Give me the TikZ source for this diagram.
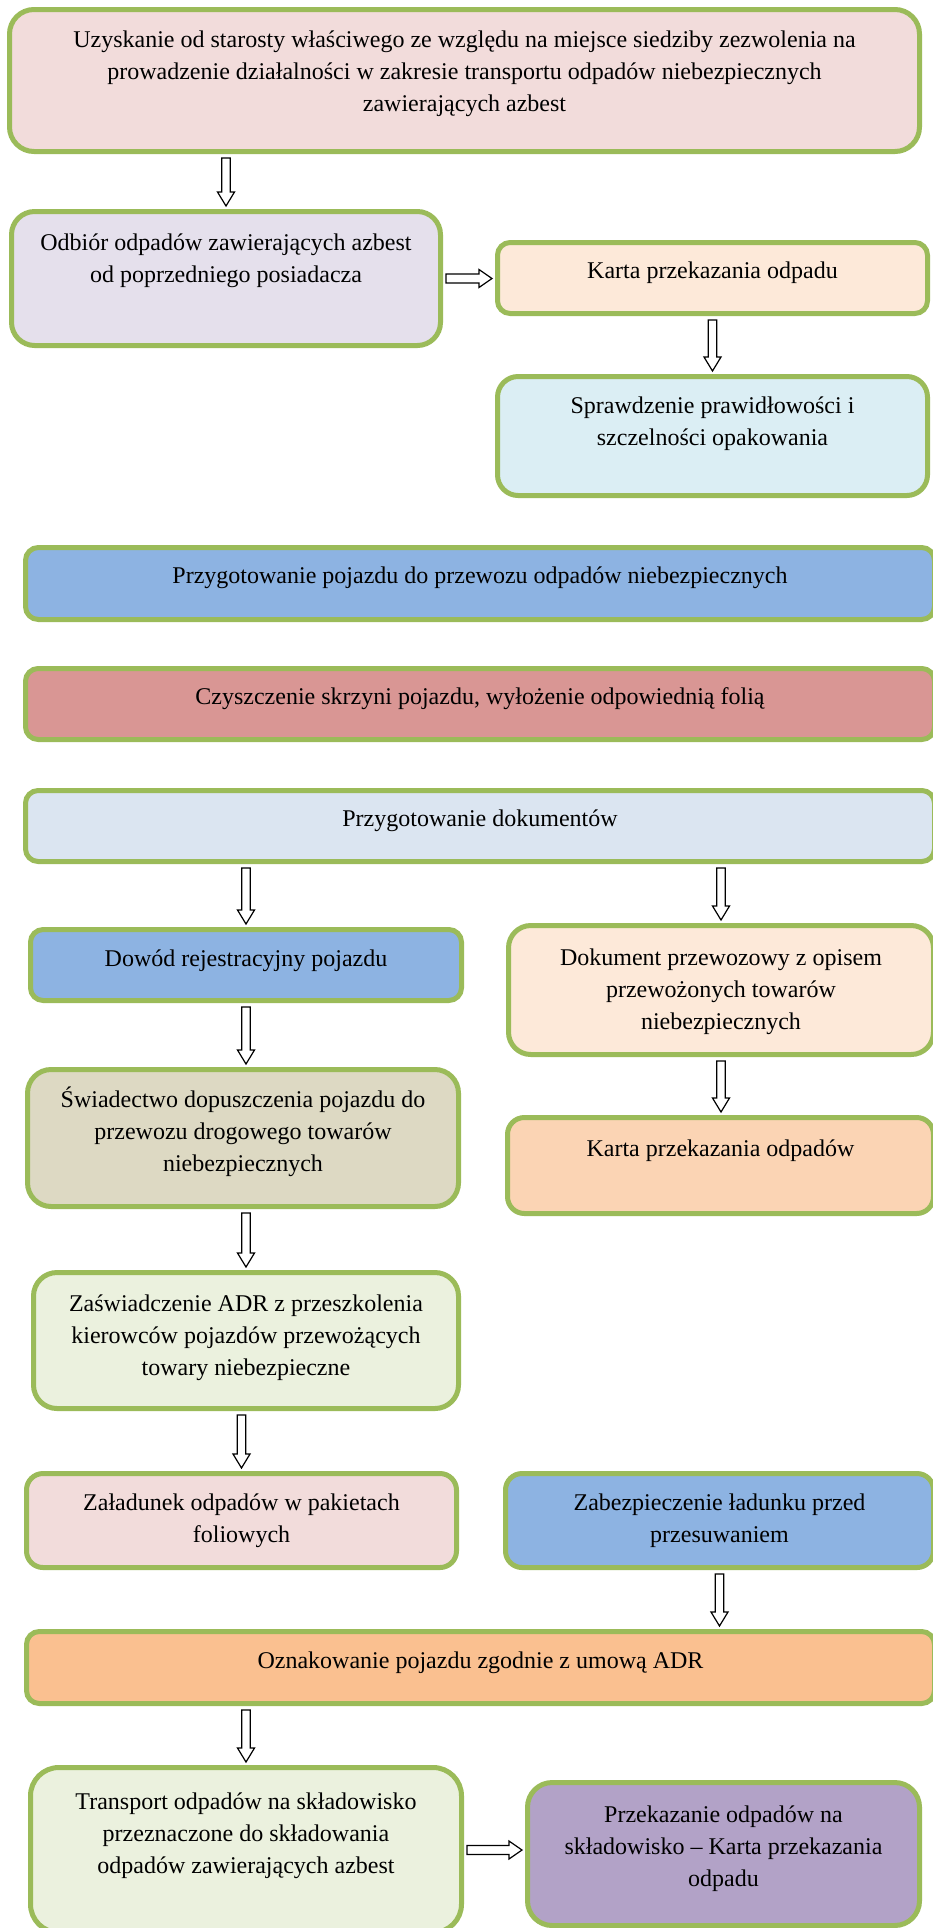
\documentclass[tikz,border=0pt]{standalone}
\usepackage{fontspec}
\setmainfont{Liberation Serif}
\usetikzlibrary{calc}
\definecolor{bgreen}{HTML}{9BBB59}
\definecolor{cPink}{HTML}{F2DCDB}
\definecolor{cLav}{HTML}{E5E0EC}
\definecolor{cPeach}{HTML}{FDE9D9}
\definecolor{cAqua}{HTML}{DBEEF4}
\definecolor{cBlue}{HTML}{8DB3E2}
\definecolor{cRed}{HTML}{D99694}
\definecolor{cLBlue}{HTML}{DBE5F1}
\definecolor{cTan}{HTML}{DDD9C3}
\definecolor{cOrL}{HTML}{FBD4B4}
\definecolor{cLGreen}{HTML}{EBF1DE}
\definecolor{cOr}{HTML}{FAC090}
\definecolor{cPurp}{HTML}{B2A2C7}
\newcommand\mytxt[1]{\begin{tabular}[t]{@{}c@{}}#1\end{tabular}}
\newcommand\mkbox[8]{%
  \pgfmathsetmacro\myw{#4-#2-5}%
  \pgfmathsetmacro\myh{#5-#3-5}%
  \pgfmathsetmacro\myr{0.1667*min(#4-#2,#5-#3)}%
  \node[boxst, fill=#6, minimum width=\myw pt, minimum height=\myh pt, rounded corners=\myr pt] (#1) at ({(#2+#4)/2},{(#3+#5)/2}) {};
  \node[txt] (#1t) at ($(#1.north)+(0,#7)$) {\mytxt{#8}};
}
\tikzset{
  boxst/.style={draw=bgreen, line width=5pt, inner sep=0pt, shape=rectangle},
  txt/.style={anchor=base, inner sep=0pt, font=\fontsize{24pt}{32pt}\selectfont, text=black},
  vblk/.style={draw=black, line width=1.2pt, fill=white, line join=miter,
    to path={let \p1=(\tikztostart), \p2=(\tikztotarget) in
      (\x1-4.25pt,\y1-4pt) -- (\x1+4.25pt,\y1-4pt) -- (\x1+4.25pt,\y2+17pt) -- (\x1+8.5pt,\y2+17pt)
      -- (\x1,\y2+3pt) -- (\x1-8.5pt,\y2+17pt) -- (\x1-4.25pt,\y2+17pt) -- cycle}},
  hblk/.style={draw=black, line width=1.2pt, fill=white, line join=miter,
    to path={let \p1=(\tikztostart), \p2=(\tikztotarget) in
      (\x1+3pt,\y1+4.5pt) -- (\x2-16pt,\y1+4.5pt) -- (\x2-16pt,\y1+9pt) -- (\x2-3pt,\y1)
      -- (\x2-16pt,\y1-9pt) -- (\x2-16pt,\y1-4.5pt) -- (\x1+3pt,\y1-4.5pt) -- cycle}},
}
\begin{document}
\begin{tikzpicture}[x=1pt,y=-1pt]
\fill[white] (0,0) rectangle (932,1928);
\useasboundingbox (0,0) rectangle (932,1928);
\mkbox{b1}{7}{7}{922}{154}{cPink}{40}{Uzyskanie od starosty właściwego ze względu na miejsce siedziby zezwolenia na\\prowadzenie działalności w zakresie transportu odpadów niebezpiecznych\\zawierających azbest}
\mkbox{b2}{9}{209}{443}{348}{cLav}{41}{Odbiór odpadów zawierających azbest\\od poprzedniego posiadacza}
\mkbox{b3}{495}{240}{930}{316}{cPeach}{38}{Karta przekazania odpadu}
\mkbox{b4}{495}{374}{930}{498}{cAqua}{39}{Sprawdzenie prawidłowości i\\szczelności opakowania}
\mkbox{b5}{23}{545}{937}{622}{cBlue}{38}{Przygotowanie pojazdu do przewozu odpadów niebezpiecznych}
\mkbox{b6}{23}{666}{937}{742}{cRed}{38}{Czyszczenie skrzyni pojazdu, wyłożenie odpowiednią folią}
\mkbox{b7}{23}{788}{937}{864}{cLBlue}{38}{Przygotowanie dokumentów}
\mkbox{b8}{28}{927}{464}{1003}{cBlue}{39}{Dowód rejestracyjny pojazdu}
\mkbox{b9}{506}{923}{936}{1057}{cPeach}{42}{Dokument przewozowy z opisem\\przewożonych towarów\\niebezpiecznych}
\mkbox{b10}{25}{1067}{461}{1209}{cTan}{40}{Świadectwo dopuszczenia pojazdu do\\przewozu drogowego towarów\\niebezpiecznych}
\mkbox{b11}{505}{1115}{936}{1216}{cOrL}{41}{Karta przekazania odpadów}
\mkbox{b12}{31}{1270}{461}{1411}{cLGreen}{41}{Zaświadczenie ADR z przeszkolenia\\kierowców pojazdów przewożących\\towary niebezpieczne}
\mkbox{b13}{24}{1471}{459}{1570}{cPink}{39}{Załadunek odpadów w pakietach\\foliowych}
\mkbox{b14}{503}{1471}{936}{1570}{cBlue}{39}{Zabezpieczenie ładunku przed\\przesuwaniem}
\mkbox{b15}{24}{1629}{937}{1706}{cOr}{39}{Oznakowanie pojazdu zgodnie z umową ADR}
\mkbox{b16}{28}{1765}{464}{1935}{cLGreen}{44}{Transport odpadów na składowisko\\przeznaczone do składowania\\odpadów zawierających azbest}
\mkbox{b17}{525}{1780}{922}{1928}{cPurp}{42}{Przekazanie odpadów na\\składowisko – Karta przekazania\\odpadu}
% connectors
\draw[vblk] (b1.south -| b2.north) to (b2.north);
\draw[hblk] (b2.east) to (b3.west |- b2.east);
\draw[vblk] (b3.south) to (b4.north -| b3.south);
\draw[vblk] (b7.south -| b8.north) to (b8.north);
\draw[vblk] (b7.south -| b9.north) to (b9.north);
\draw[vblk] (b8.south) to (b10.north -| b8.south);
\draw[vblk] (b9.south) to (b11.north -| b9.south);
\draw[vblk] (b10.south -| b12.north) to (b12.north);
\draw[vblk] (b12.south -| b13.north) to (b13.north);
\draw[vblk] (b14.south) to (b15.north -| b14.south);
\draw[vblk] (b15.south -| b16.north) to (b16.north);
\draw[hblk] (b16.east) to (b17.west |- b16.east);
\end{tikzpicture}
\end{document}
